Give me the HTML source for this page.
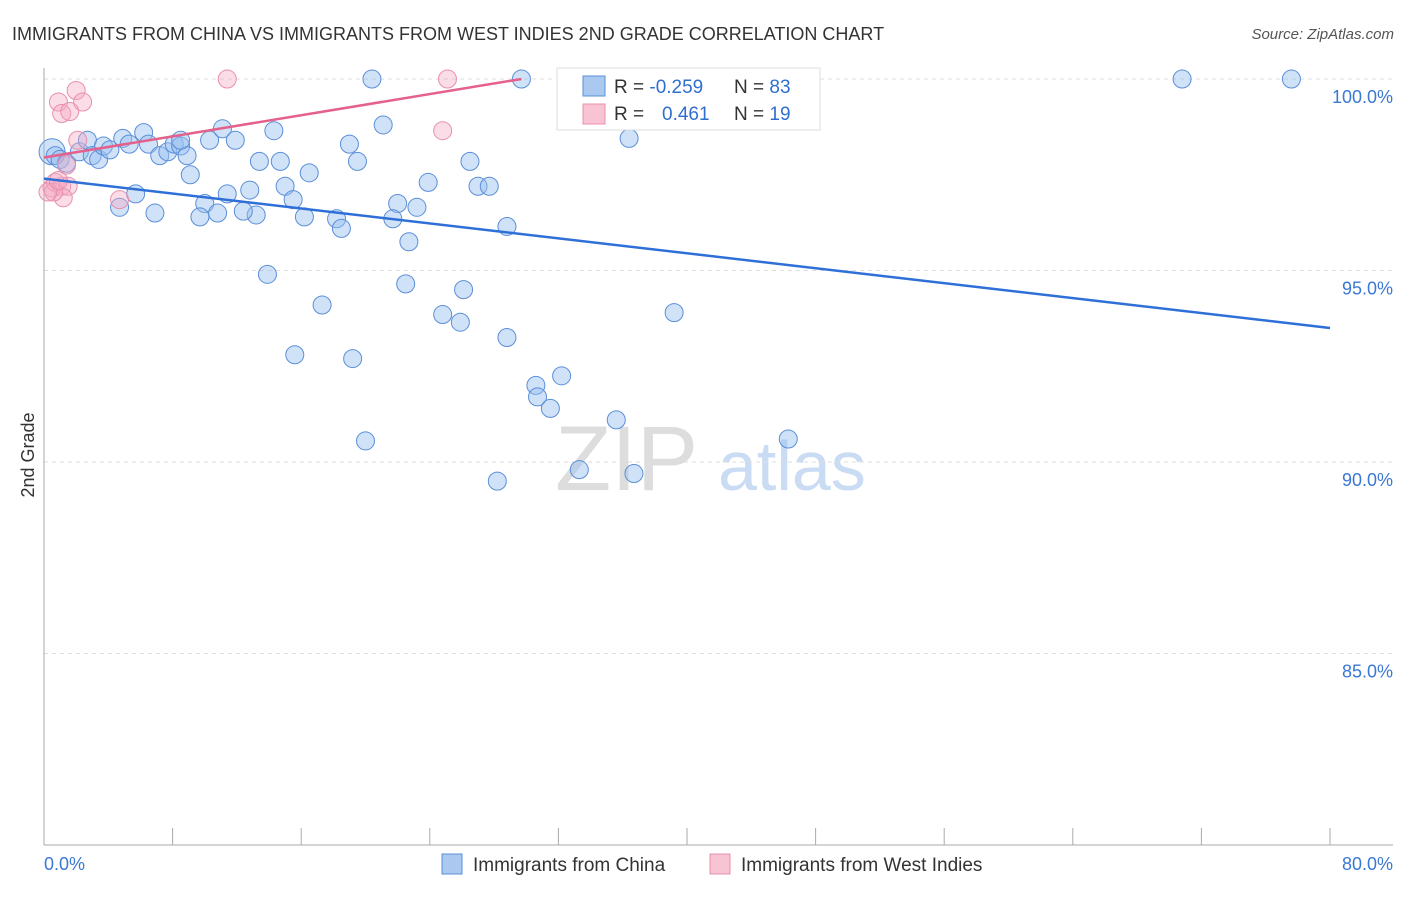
<!DOCTYPE html>
<html><head><meta charset="utf-8"><style>
body{margin:0;background:#fff;font-family:"Liberation Sans",sans-serif;}
svg text{font-family:"Liberation Sans",sans-serif;}
</style></head><body>
<svg id="chart" width="1406" height="892" viewBox="0 0 1406 892">
<text x="12" y="40" font-size="18" fill="#333">IMMIGRANTS FROM CHINA VS IMMIGRANTS FROM WEST INDIES 2ND GRADE CORRELATION CHART</text>
<text x="1394" y="39" font-size="15" fill="#555" text-anchor="end" font-style="italic">Source: ZipAtlas.com</text>
<text x="555" y="490" font-size="92" fill="#ddd" font-family="Liberation Serif">ZIP</text>
<text x="718" y="490" font-size="70" fill="#c9dcf3">atlas</text>
<text transform="translate(34,455) rotate(-90)" font-size="18" fill="#333" text-anchor="middle">2nd Grade</text>
<g id="grid"></g><g id="axes"></g><g id="pts"></g><g id="lines"></g>
<g>
<rect x="557" y="68" width="263" height="62" fill="#fff" stroke="#ddd"/>
<rect x="583" y="76" width="22" height="20" fill="#aac8f0" stroke="#5b8fd8"/>
<rect x="583" y="104" width="22" height="20" fill="#f8c4d4" stroke="#e890ac"/>
<text x="614" y="93" font-size="19" fill="#333">R = <tspan fill="#2f6fd0">-0.259</tspan></text>
<text x="734" y="93" font-size="19" fill="#333">N = <tspan fill="#2f6fd0">83</tspan></text>
<text x="614" y="120" font-size="19" fill="#333">R = <tspan fill="#2f6fd0" x="662">0.461</tspan></text>
<text x="734" y="120" font-size="19" fill="#333">N = <tspan fill="#2f6fd0">19</tspan></text>
</g>
<g>
<rect x="442" y="854" width="20" height="20" fill="#aac8f0" stroke="#5b8fd8"/>
<text x="473" y="871" font-size="19" fill="#333">Immigrants from China</text>
<rect x="710" y="854" width="20" height="20" fill="#f8c4d4" stroke="#e890ac"/>
<text x="741" y="871" font-size="19" fill="#333">Immigrants from West Indies</text>
</g>
</svg>
<script>
const yTicks=[100,95,90,85];
const xTickLabels=["0.0%","80.0%"];
const chinaX=[0.5,0.7,1.0,1.4,2.2,2.7,3.0,3.4,3.7,4.1,4.9,5.3,6.2,6.5,7.2,7.7,8.1,8.5,8.9,9.1,10.3,11.1,11.9,13.4,14.3,14.7,15.0,15.5,16.5,19.0,19.5,21.1,20.4,29.7,32.9,41.1,34.6,36.4,26.5,27.0,27.7,23.9,22.0,23.2,22.7,21.7,18.2,18.5,16.2,13.2,12.4,12.8,11.4,10.0,9.7,10.8,6.9,5.7,4.7,13.9,17.3,22.5,26.1,24.8,25.9,28.8,28.8,15.6,19.2,30.6,32.2,30.7,31.5,35.6,20.0,33.3,36.7,28.2,39.2,46.3,70.8,77.6,8.5];
const chinaY=[98.1,98.0,97.9,97.8,98.1,98.4,98.0,97.9,98.25,98.15,98.45,98.3,98.6,98.3,98.0,98.1,98.3,98.25,98.0,97.5,98.4,98.7,98.4,97.85,98.65,97.85,97.2,96.85,97.55,98.3,97.85,98.8,100,100,100,100,99.7,98.45,97.85,97.2,97.2,97.3,96.75,96.65,95.75,96.35,96.35,96.1,96.4,96.45,96.55,97.1,97.0,96.75,96.4,96.5,96.5,97.0,96.65,94.9,94.1,94.65,94.5,93.85,93.65,96.15,93.25,92.8,92.7,92.0,92.25,91.7,91.4,91.1,90.55,89.8,89.7,89.5,93.9,90.6,100,100,98.4];
const wiX=[0.9,2.0,2.4,1.1,1.6,2.1,0.5,0.7,1.1,1.5,1.2,0.6,4.7,11.4,25.1,24.8,1.4,0.25,0.9];
const wiY=[99.4,99.7,99.4,99.1,99.15,98.4,97.15,97.3,97.2,97.2,96.9,97.05,96.85,100,100,98.65,97.75,97.05,97.35];
const chinaTrend=[97.4,93.5];
const wiTrend=[97.95,100];
const wiTrendEndX=29.7;
const X0=44,X1=1330,Y0=79,Y1=845;
const sx=v=>X0+(v/80)*(X1-X0);
const sy=v=>Y0+(100-v)/20*(Y1-Y0);
const NS="http://www.w3.org/2000/svg";
function mk(t,a,p){const e=document.createElementNS(NS,t);for(const k in a)e.setAttribute(k,a[k]);p.appendChild(e);return e;}
const grid=document.getElementById('grid'),axes=document.getElementById('axes'),pts=document.getElementById('pts'),lines=document.getElementById('lines');
yTicks.forEach(v=>{
 const l=mk('line',{x1:X0,x2:1393,y1:sy(v),y2:sy(v),stroke:'#ddd','stroke-dasharray':'4,4'},grid);
 
 
 const t=mk('text',{x:1393,y:sy(v)+24,'font-size':18,fill:'#3a78d4','text-anchor':'end'},grid);
 t.textContent=v.toFixed(1)+'%';
 
 
});
mk('line',{x1:X0,x2:X0,y1:68,y2:Y1,stroke:'#aaa'},axes);
mk('line',{x1:X0,x2:1393,y1:Y1,y2:Y1,stroke:'#aaa'},axes);
for(let i=0;i<=10;i++){const x=sx(i*8);const t=mk('line',{x1:x,x2:x,y1:828,y2:Y1,stroke:'#aaa'},axes);
 
 }
const xl0=mk('text',{x:X0,y:870,'font-size':18,fill:'#3a78d4'},axes);xl0.textContent=xTickLabels[0];


const xl1=mk('text',{x:1393,y:870,'font-size':18,fill:'#3a78d4','text-anchor':'end'},axes);xl1.textContent=xTickLabels[1];


chinaX.forEach((x,i)=>{const c=mk('circle',{cx:sx(x),cy:sy(chinaY[i]),r:i===0?13:9,fill:'rgba(150,190,240,0.45)',stroke:'#5b8fd8','stroke-width':1},pts);
 
 });
wiX.forEach((x,i)=>{const c=mk('circle',{cx:sx(x),cy:sy(wiY[i]),r:9,fill:'rgba(245,170,195,0.4)',stroke:'#e890ac','stroke-width':1},pts);
 
 });
const bl=mk('line',{x1:sx(0),y1:sy(chinaTrend[0]),x2:sx(80),y2:sy(chinaTrend[1]),stroke:'#2f6fd8','stroke-width':2.5},lines);


const pl=mk('line',{x1:sx(0),y1:sy(wiTrend[0]),x2:sx(wiTrendEndX),y2:sy(wiTrend[1]),stroke:'#e5608a','stroke-width':2.5},lines);


</script>
</body></html>
